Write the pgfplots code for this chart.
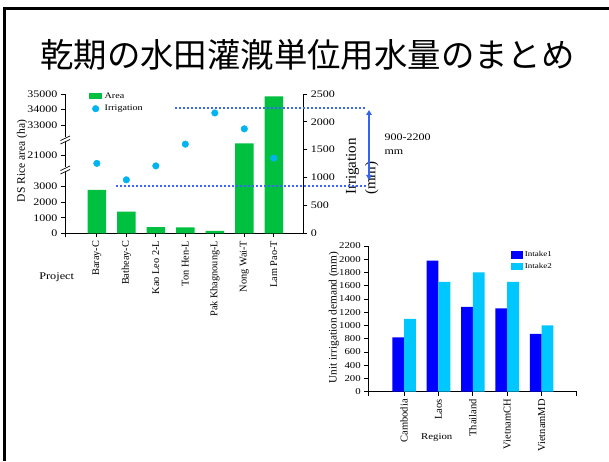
\documentclass[border=0pt]{standalone}
\usepackage{pgfplots}
\pgfplotsset{compat=1.18}
\usepackage{pgfplotstable}
\usepackage{fontspec}
\setmainfont{Liberation Serif}
\newfontfamily\hfont[FakeStretch=1.2]{Liberation Serif}
\newfontfamily\jpfont{Noto Sans CJK JP}
\usetikzlibrary{arrows.meta}

\definecolor{areagreen}{RGB}{0,192,64}
\definecolor{irrcyan}{RGB}{0,180,240}
\definecolor{dotblue}{RGB}{60,100,255}
\definecolor{arrblue}{RGB}{50,100,240}
\definecolor{intakeone}{RGB}{0,0,255}
\definecolor{intaketwo}{RGB}{0,200,255}

\pgfplotsset{/pgf/number format/1000 sep={}}

\pgfplotstableread{
x area irr
0 2800 1255
1 1400 960
2 400 1210
3 380 1600
4 150 2160
5 21750 1875
6 34850 1350
}\projtable

\pgfplotstableread{
x in1 in2
0 820 1100
1 1980 1660
2 1280 1800
3 1260 1660
4 875 1000
}\regiontable

\begin{document}
\begin{tikzpicture}[x=1pt,y=1pt]
\useasboundingbox (0,0) rectangle (609,461);
\draw[line width=2.7pt] (4.7,0) -- (4.7,452.3) -- (609,452.3);
\node[font=\jpfont\fontsize{33.4}{40}\selectfont] at (307.5,406) {乾期の水田灌漑単位用水量のまとめ};

% ---------- left chart, area axis ----------
\begin{axis}[
  at={(65pt,227.7pt)}, anchor=south west,
  scale only axis, width=238.3pt, height=139.3pt,
  xmin=-1.08, xmax=7.0, ymin=0, ymax=8970,
  axis x line=bottom, axis y line=left,
  axis line style={-, line width=0.8pt},
  tick style={black, line width=0.8pt}, tick align=outside, major tick length=4pt,
  ybar, bar width=18.5pt,
  xtick={0,...,6},
  xticklabels={Baray-C,Batheay-C,Kao Leo 2-L,Ton Hen-L,Pak Khagnoung-L,Nong Wai-T,Lam Pao-T},
  extra x ticks={-1.08}, extra x tick labels={},
  xticklabel style={rotate=90, anchor=east, font=\fontsize{10.3}{12}\selectfont},
  ytick={0,1000,2000,3000,5040,6970,7970,8970},
  yticklabels={0,1000,2000,3000,21000,33000,34000,35000},
  yticklabel style={font=\hfont\fontsize{10}{12}\selectfont},
  legend style={at={(0.088,1.04)}, anchor=north west, draw=none, fill=none,
    font=\hfont\fontsize{8.4}{10}\selectfont, row sep=1.5pt,
    nodes={inner xsep=2.5pt}},
  legend cell align=left,
  clip=false,
]
\addplot[fill=areagreen, draw=none,
  legend image code/.code={\fill[areagreen] (0pt,-3.2pt) rectangle (13pt,3.2pt);}]
  table[x=x, y expr={\thisrow{area}>27000 ? \thisrow{area}-26030 : (\thisrow{area}>10000 ? \thisrow{area}-15960 : \thisrow{area})}]{\projtable};
\addlegendentry{Area}
\addlegendimage{legend image code/.code={\fill[irrcyan] (6.5pt,0pt) circle (3.3pt);}}
\addlegendentry{Irrigation}
\end{axis}

% ---------- left chart, irrigation axis ----------
\begin{axis}[
  at={(65pt,227.7pt)}, anchor=south west,
  scale only axis, width=238.3pt, height=139.3pt,
  xmin=-1.08, xmax=7.0, ymin=0, ymax=2500,
  axis x line=none, axis y line=right,
  axis line style={-, line width=0.8pt},
  tick style={black, line width=0.8pt}, tick align=outside, major tick length=4pt,
  ytick={0,500,...,2500},
  yticklabel style={font=\hfont\fontsize{10}{12}\selectfont},
  /pgf/number format/assume math mode=true,
  clip=false,
]
\addplot[only marks, mark=*, mark size=3.3pt, irrcyan] table[x=x, y=irr]{\projtable};
\end{axis}

% axis breaks
\fill[white] (62,318.5) rectangle (68,323.5);
\draw[line width=0.7pt] (60.5,317) -- (70,321.5) (60.5,320.5) -- (70,325);
\fill[white] (62,288.5) rectangle (68,293.5);
\draw[line width=0.7pt] (60.5,287) -- (70,291.5) (60.5,290.5) -- (70,295);

% labels left chart
\node[rotate=90, font=\fontsize{11.5}{13}\selectfont] at (22,300) {DS Rice area (ha)};
\node[font=\hfont\fontsize{10.2}{12}\selectfont] at (56.7,183.3) {Project};
\node[rotate=90, anchor=west, font=\fontsize{15}{17}\selectfont] at (352.5,262.5) {Irrigation};
\node[rotate=90, anchor=west, font=\fontsize{15}{17}\selectfont] at (371.7,262.5) {(mm)};

% range lines and arrow
\draw[dotblue, line width=2pt, dash pattern=on 2pt off 2pt] (175,352.5) -- (365,352.5);
\draw[dotblue, line width=2pt, dash pattern=on 2pt off 2pt] (116,275) -- (368,275);
\draw[arrblue, line width=1.6pt, {Triangle[length=5pt,width=5.5pt]}-{Triangle[length=5pt,width=5.5pt]}] (369,351) -- (369,281);
\node[anchor=west, font=\hfont\fontsize{10}{12}\selectfont] at (381,324) {900-2200};
\node[anchor=west, font=\hfont\fontsize{10}{12}\selectfont] at (381,309) {mm};

% ---------- right chart ----------
\begin{axis}[
  at={(368.3pt,69.3pt)}, anchor=south west,
  scale only axis, width=208.4pt, height=145.7pt,
  xmin=-1.04, xmax=5.02, ymin=0, ymax=2200,
  axis x line=bottom, axis y line=left,
  axis line style={-, line width=0.8pt},
  tick style={black, line width=0.8pt}, tick align=outside, major tick length=4pt,
  ybar=0pt, bar width=11.8pt,
  xtick={0,...,4},
  xticklabels={Cambodia,Laos,Thailand,VietnamCH,VietnamMD},
  extra x ticks={-1.04,5.02}, extra x tick labels={},
  xticklabel style={rotate=90, anchor=east, font=\fontsize{10.5}{12}\selectfont},
  ytick={0,200,...,2200},
  yticklabel style={font=\hfont\fontsize{9}{11}\selectfont},
  /pgf/number format/assume math mode=true,
  legend style={at={(0.67,0.99)}, anchor=north west, draw=none, fill=none,
    font=\hfont\fontsize{7.5}{9}\selectfont, row sep=1pt},
  legend cell align=left,
  clip=false,
]
\addplot[fill=intakeone, draw=none,
  legend image code/.code={\fill[intakeone] (0pt,-3.6pt) rectangle (11.7pt,3.6pt);}]
  table[x=x, y=in1]{\regiontable};
\addlegendentry{Intake1}
\addplot[fill=intaketwo, draw=none,
  legend image code/.code={\fill[intaketwo] (0pt,-3.6pt) rectangle (11.7pt,3.6pt);}]
  table[x=x, y=in2]{\regiontable};
\addlegendentry{Intake2}
\end{axis}
\node[rotate=90, font=\fontsize{11.3}{13}\selectfont] at (334,143.5) {Unit irrigation demand (mm)};
\node[font=\hfont\fontsize{9}{11}\selectfont] at (436.7,23.7) {Region};
\end{tikzpicture}
\end{document}
